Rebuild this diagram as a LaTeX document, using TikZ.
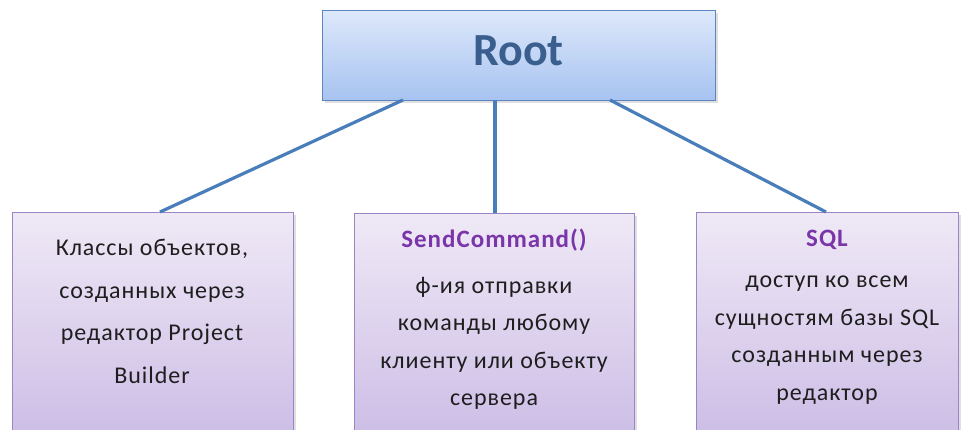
\documentclass[tikz,border=0pt]{standalone}
\usepackage{fontspec}
\setmainfont{Carlito}
\usetikzlibrary{shadows}
\definecolor{rootTop}{HTML}{DDE8FB}
\definecolor{rootBot}{HTML}{A7C3F0}
\definecolor{rootEdge}{HTML}{5B86C2}
\definecolor{rootText}{HTML}{3A5F8E}
\definecolor{leafTop}{HTML}{EFE9F6}
\definecolor{leafBot}{HTML}{CBBBE5}
\definecolor{leafEdge}{HTML}{9B85C6}
\definecolor{linkCol}{HTML}{4A7EBB}
\definecolor{headCol}{HTML}{7A35A8}
\definecolor{bodyCol}{HTML}{1E1E1E}
\tikzset{
  rootbox/.style={draw=rootEdge, line width=1.2pt, top color=rootTop, bottom color=rootBot,
    drop shadow={opacity=0.25, shadow xshift=2pt, shadow yshift=-2pt}, anchor=north west, inner sep=0pt},
  leafbox/.style={draw=leafEdge, line width=1.2pt, top color=leafTop, bottom color=leafBot,
    drop shadow={opacity=0.25, shadow xshift=2pt, shadow yshift=-2pt}, anchor=north west, inner sep=0pt},
  link/.style={draw=linkCol, line width=3.2pt},
  bodytext/.style={text=bodyCol, align=center, anchor=north, inner sep=0pt},
  headtext/.style={text=headCol, font=\fontsize{25}{26}\selectfont\bfseries\addfontfeatures{LetterSpace=4}},
}
\begin{document}
\begin{tikzpicture}[x=1pt,y=1pt]
\useasboundingbox (0,0) rectangle (967,430);
% root
\node[rootbox, minimum width=393pt, minimum height=90pt] (root) at (322,420) {};
\node[text=rootText, font=\fontsize{46}{50}\selectfont\bfseries] (roott) at (518.5,379) {Root};
% leaves
\node[leafbox, minimum width=281pt, minimum height=235pt] (l) at (12,218) {};
\node[leafbox, minimum width=280pt, minimum height=235pt] (m) at (354,217) {};
\node[leafbox, minimum width=262pt, minimum height=235pt] (r) at (696,218) {};
% connectors
\coordinate (rl) at (403,330);
\coordinate (rm) at (495,330);
\coordinate (rr) at (610,330);
\draw[link] (rl) -- (l.north -| 160,0);
\draw[link] (rm) -- (m.north -| 495,0);
\draw[link] (rr) -- (r.north -| 826,0);
% texts
\node[bodytext, font=\fontsize{24}{42.5}\selectfont\addfontfeatures{LetterSpace=4}] (lt) at (152,191)
  {Классы объектов,\\созданных через\\редактор Project\\Builder};
\node[headtext] (mh) at (494,190) {SendCommand()};
\node[bodytext, font=\fontsize{24}{37.5}\selectfont\addfontfeatures{LetterSpace=4}] (mt) at (494,153)
  {ф-ия отправки\\команды любому\\клиенту или объекту\\сервера};
\node[headtext] (rh) at (827,190) {SQL};
\node[bodytext, font=\fontsize{24}{37.5}\selectfont\addfontfeatures{LetterSpace=4}] (rt) at (827,154)
  {доступ ко всем\\сущностям базы SQL\\созданным через\\редактор};
\end{tikzpicture}
\end{document}
